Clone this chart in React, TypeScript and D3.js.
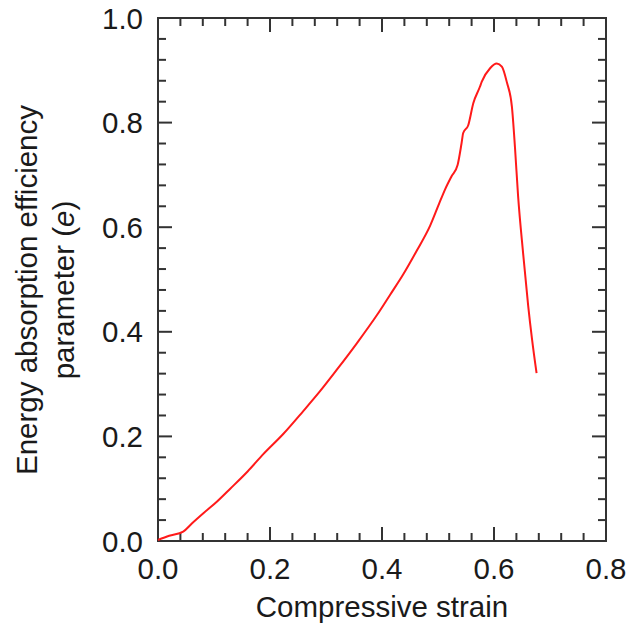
import React from "react";
import * as d3 from "d3";

const strain = [0, 0.02, 0.045, 0.06, 0.081, 0.105, 0.129, 0.16, 0.188, 0.224, 0.259, 0.289, 0.319, 0.355, 0.391, 0.414, 0.438, 0.462, 0.486, 0.502, 0.5125, 0.524, 0.535, 0.542, 0.545, 0.554, 0.563, 0.575, 0.578, 0.593, 0.605, 0.614, 0.623, 0.632, 0.6375, 0.643, 0.652, 0.661, 0.668, 0.676];
const efficiency = [0.002, 0.01, 0.018, 0.033, 0.053, 0.075, 0.1, 0.133, 0.166, 0.205, 0.248, 0.286, 0.327, 0.378, 0.432, 0.47, 0.51, 0.555, 0.603, 0.645, 0.672, 0.697, 0.719, 0.76, 0.78, 0.795, 0.837, 0.869, 0.878, 0.904, 0.913, 0.907, 0.877, 0.83, 0.752, 0.66, 0.55, 0.45, 0.385, 0.321];

const xMajor = [0, 0.2, 0.4, 0.6, 0.8];
const yMajor = [0, 0.2, 0.4, 0.6, 0.8, 1.0];
const minorStep = 0.04;

export default function App() {
  const W = 630, H = 632;
  const L = 158, R = 606, T = 18, B = 541;
  const x = d3.scaleLinear().domain([0, 0.8]).range([L, R]);
  const y = d3.scaleLinear().domain([0, 1.0]).range([B, T]);
  const line = d3
    .line<number>()
    .x((_, i) => x(strain[i]))
    .y((d) => y(d))
    .curve(d3.curveMonotoneX);
  const axisColor = "#333";
  const textColor = "#1a1a1a";
  const font = "Liberation Sans, Arial, Helvetica, sans-serif";
  const xMinor = d3.range(0, 0.8 + 1e-9, minorStep).filter((v) => !xMajor.some((m) => Math.abs(m - v) < 1e-6));
  const yMinor = d3.range(0, 1.0 + 1e-9, minorStep).filter((v) => !yMajor.some((m) => Math.abs(m - v) < 1e-6));
  const maj = 14, min = 8;
  return (
    <svg width={W} height={H} style={{ position: "absolute", left: 0, top: 0, background: "#fff" }}>
      <rect x={0} y={0} width={W} height={H} fill="#fff" />
      <g stroke={axisColor} strokeWidth={2}>
        {xMajor.map((v) => (
          <g key={"xm" + v}>
            <line x1={x(v)} x2={x(v)} y1={B} y2={B - maj} />
            <line x1={x(v)} x2={x(v)} y1={T} y2={T + maj} />
          </g>
        ))}
        {xMinor.map((v) => (
          <g key={"xn" + v}>
            <line x1={x(v)} x2={x(v)} y1={B} y2={B - min} />
            <line x1={x(v)} x2={x(v)} y1={T} y2={T + min} />
          </g>
        ))}
        {yMajor.map((v) => (
          <g key={"ym" + v}>
            <line x1={L} x2={L + maj} y1={y(v)} y2={y(v)} />
            <line x1={R} x2={R - maj} y1={y(v)} y2={y(v)} />
          </g>
        ))}
        {yMinor.map((v) => (
          <g key={"yn" + v}>
            <line x1={L} x2={L + min} y1={y(v)} y2={y(v)} />
            <line x1={R} x2={R - min} y1={y(v)} y2={y(v)} />
          </g>
        ))}
      </g>
      <rect x={L} y={T} width={R - L} height={B - T} fill="none" stroke={axisColor} strokeWidth={2} />
      <path d={line(efficiency) || ""} fill="none" stroke="#ff1a1a" strokeWidth={2} strokeLinejoin="round" />
      <g fontFamily={font} fontSize={29.5} fill={textColor}>
        {xMajor.map((v) => (
          <text key={"xl" + v} x={x(v)} y={579} textAnchor="middle">{v.toFixed(1)}</text>
        ))}
        {yMajor.map((v) => (
          <text key={"yl" + v} x={143} y={y(v) + 10.5} textAnchor="end">{v.toFixed(1)}</text>
        ))}
      </g>
      <text x={(L + R) / 2} y={617} textAnchor="middle" fontFamily={font} fontSize={29.5} fill={textColor}>
        Compressive strain
      </text>
      <g fontFamily={font} fontSize={29.5} fill={textColor}>
        <text transform={`translate(37,290) rotate(-90)`} textAnchor="middle">Energy absorption efficiency</text>
        <text transform={`translate(74,290) rotate(-90)`} textAnchor="middle">
          parameter (<tspan fontStyle="italic">e</tspan>)
        </text>
      </g>
    </svg>
  );
}
